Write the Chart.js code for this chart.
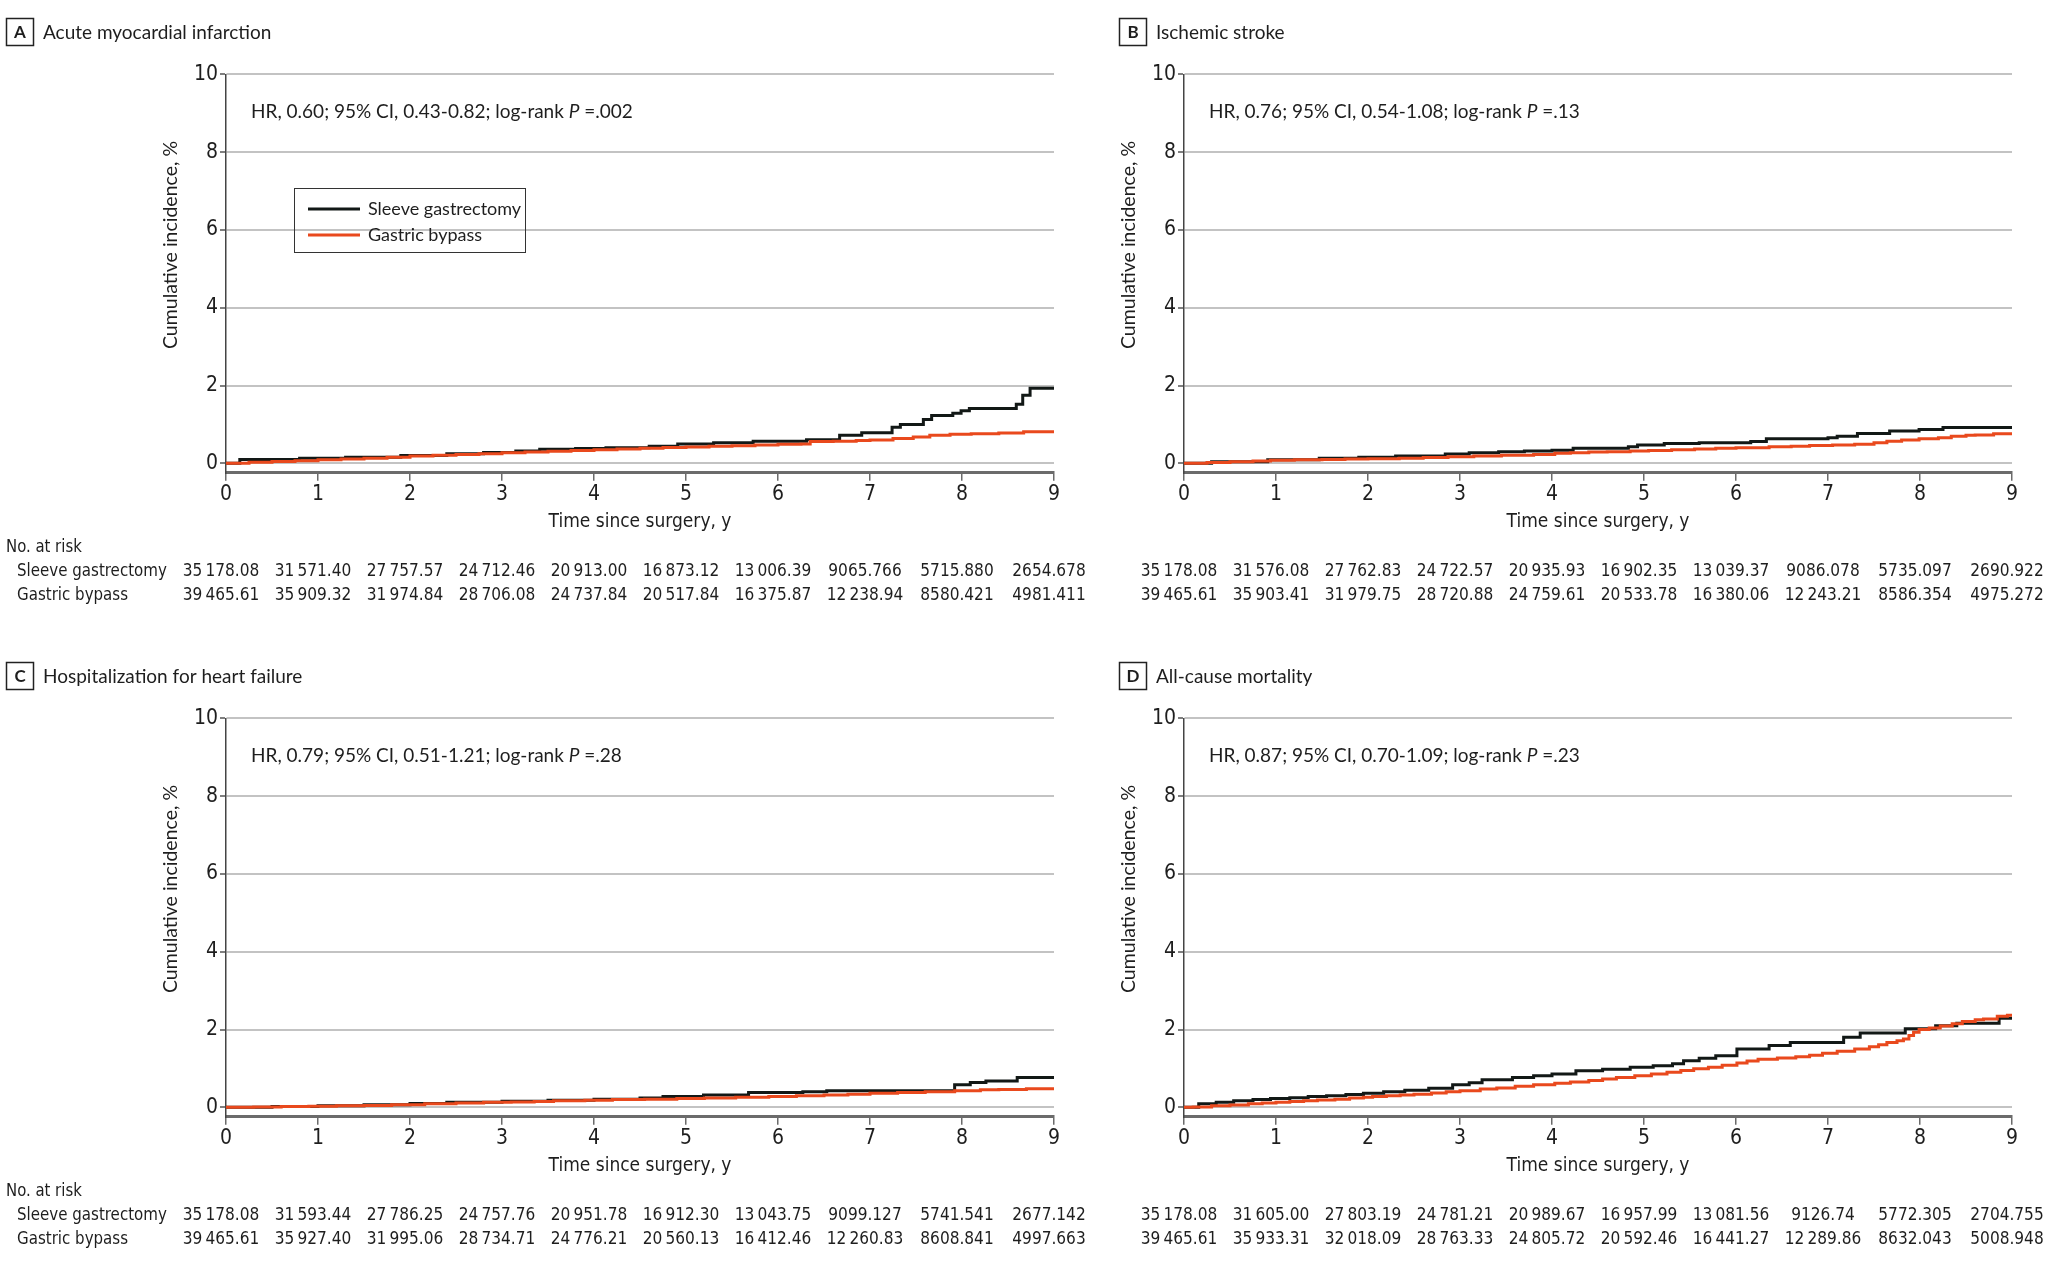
<!DOCTYPE html>
<html>
<head>
<meta charset="utf-8">
<script src="https://cdn.jsdelivr.net/npm/chart.js@4.4.0/dist/chart.umd.min.js"></script>
<style>
html, body { margin: 0; padding: 0; background: #fff; width: 2048px; height: 1266px; overflow: hidden; }
canvas { position: absolute; }
</style>
</head>
<body>
<canvas id="panelA" width="1100" height="622" style="left:0px;top:0px;width:1100px;height:622px"></canvas>
<canvas id="panelB" width="1100" height="622" style="left:958px;top:0px;width:1100px;height:622px"></canvas>
<canvas id="panelC" width="1100" height="622" style="left:0px;top:644px;width:1100px;height:622px"></canvas>
<canvas id="panelD" width="1100" height="622" style="left:958px;top:644px;width:1100px;height:622px"></canvas>
<script>
// Cumulative incidence (%) step curves
const xTicks = [0, 1, 2, 3, 4, 5, 6, 7, 8, 9];
const yTicks = [0, 2, 4, 6, 8, 10];

const aSleeveT = [0, 0.15, 0.8, 1.3, 1.9, 2.4, 2.8, 3.15, 3.41, 3.8, 4.13, 4.6, 4.91, 5.3, 5.73, 6.31, 6.67, 6.91, 7.24, 7.33, 7.58, 7.67, 7.90, 7.99, 8.08, 8.59, 8.66, 8.74, 9.0];
const aSleeveY = [0, 0.10, 0.13, 0.16, 0.20, 0.25, 0.28, 0.32, 0.36, 0.38, 0.40, 0.44, 0.50, 0.53, 0.57, 0.61, 0.72, 0.79, 0.93, 1.00, 1.13, 1.23, 1.29, 1.35, 1.41, 1.52, 1.75, 1.93, 1.93];
const aBypassT = [0, 0.25, 0.5, 0.75, 1.0, 1.25, 1.5, 1.75, 2.0, 2.25, 2.5, 2.75, 3.0, 3.25, 3.5, 3.75, 4.0, 4.25, 4.5, 4.75, 5.0, 5.25, 5.5, 5.75, 6.0, 6.25, 6.35, 6.6, 6.85, 7.0, 7.25, 7.47, 7.65, 7.87, 8.1, 8.4, 8.67, 9.0];
const aBypassY = [0, 0.03, 0.05, 0.07, 0.09, 0.11, 0.13, 0.16, 0.19, 0.21, 0.23, 0.25, 0.27, 0.29, 0.31, 0.33, 0.35, 0.37, 0.39, 0.41, 0.42, 0.44, 0.45, 0.47, 0.49, 0.50, 0.56, 0.57, 0.59, 0.60, 0.64, 0.68, 0.72, 0.75, 0.76, 0.78, 0.81, 0.82];

const bSleeveT = [0, 0.3, 0.91, 1.47, 1.9, 2.3, 2.84, 3.1, 3.42, 3.7, 4.0, 4.23, 4.83, 4.93, 5.22, 5.6, 6.16, 6.33, 7.0, 7.1, 7.32, 7.67, 7.99, 8.25, 9.0];
const bSleeveY = [0, 0.04, 0.09, 0.13, 0.16, 0.19, 0.24, 0.27, 0.30, 0.32, 0.34, 0.39, 0.43, 0.47, 0.51, 0.53, 0.56, 0.63, 0.66, 0.70, 0.77, 0.83, 0.87, 0.92, 0.92];
const bBypassT = [0, 0.25, 0.5, 0.75, 0.94, 1.2, 1.5, 1.75, 2.0, 2.34, 2.6, 2.87, 3.15, 3.45, 3.8, 4.03, 4.2, 4.4, 4.6, 4.85, 5.05, 5.3, 5.55, 5.78, 6.0, 6.36, 6.6, 6.8, 7.05, 7.29, 7.5, 7.64, 7.8, 7.99, 8.2, 8.34, 8.5, 8.6, 8.8, 9.0];
const bBypassY = [0, 0.02, 0.04, 0.06, 0.08, 0.09, 0.10, 0.11, 0.12, 0.13, 0.15, 0.17, 0.19, 0.21, 0.23, 0.26, 0.27, 0.29, 0.30, 0.32, 0.33, 0.35, 0.37, 0.39, 0.40, 0.43, 0.44, 0.46, 0.47, 0.49, 0.53, 0.57, 0.60, 0.63, 0.66, 0.70, 0.72, 0.73, 0.76, 0.79];

const cSleeveT = [0, 0.5, 1.0, 1.5, 2.0, 2.4, 3.0, 3.5, 4.0, 4.5, 4.75, 5.19, 5.68, 6.27, 6.53, 7.92, 8.09, 8.26, 8.6, 9.0];
const cSleeveY = [0, 0.02, 0.04, 0.07, 0.10, 0.13, 0.16, 0.18, 0.21, 0.24, 0.28, 0.32, 0.38, 0.40, 0.43, 0.58, 0.64, 0.68, 0.77, 0.77];
const cBypassT = [0, 0.3, 0.6, 0.9, 1.2, 1.5, 1.8, 2.16, 2.5, 2.8, 3.1, 3.35, 3.56, 3.9, 4.2, 4.55, 4.9, 5.2, 5.54, 5.9, 6.2, 6.5, 6.76, 7.0, 7.3, 7.6, 7.92, 8.2, 8.4, 8.7, 9.0];
const cBypassY = [0, 0.01, 0.02, 0.03, 0.04, 0.05, 0.07, 0.09, 0.11, 0.13, 0.14, 0.15, 0.17, 0.18, 0.20, 0.21, 0.23, 0.24, 0.26, 0.28, 0.30, 0.32, 0.34, 0.36, 0.38, 0.40, 0.43, 0.45, 0.46, 0.48, 0.49];

const dSleeveT = [0, 0.16, 0.35, 0.54, 0.75, 0.94, 1.15, 1.35, 1.55, 1.76, 1.95, 2.17, 2.4, 2.66, 2.92, 3.1, 3.24, 3.57, 3.8, 4.0, 4.26, 4.55, 4.85, 5.1, 5.31, 5.43, 5.6, 5.78, 6.01, 6.36, 6.59, 7.17, 7.35, 7.84, 8.17, 8.4, 8.86, 9.0];
const dSleeveY = [0, 0.09, 0.13, 0.17, 0.20, 0.23, 0.25, 0.28, 0.30, 0.33, 0.36, 0.40, 0.44, 0.49, 0.58, 0.63, 0.71, 0.77, 0.81, 0.86, 0.94, 0.98, 1.03, 1.07, 1.12, 1.20, 1.26, 1.33, 1.50, 1.59, 1.67, 1.80, 1.91, 2.02, 2.10, 2.16, 2.29, 2.29];
const dBypassT = [0, 0.1, 0.3, 0.5, 0.7, 0.85, 1.0, 1.15, 1.3, 1.45, 1.64, 1.8, 1.95, 2.05, 2.2, 2.35, 2.5, 2.69, 2.85, 3.0, 3.22, 3.4, 3.6, 3.8, 4.03, 4.2, 4.4, 4.55, 4.7, 4.9, 5.08, 5.25, 5.4, 5.54, 5.7, 5.85, 6.01, 6.12, 6.24, 6.45, 6.65, 6.8, 6.94, 7.1, 7.29, 7.45, 7.55, 7.64, 7.75, 7.82, 7.88, 7.93, 7.99, 8.1, 8.22, 8.35, 8.46, 8.6, 8.69, 8.84, 8.95, 9.0];
const dBypassY = [0, 0.01, 0.04, 0.06, 0.09, 0.11, 0.13, 0.15, 0.17, 0.19, 0.21, 0.24, 0.26, 0.28, 0.30, 0.32, 0.34, 0.37, 0.40, 0.43, 0.47, 0.50, 0.54, 0.58, 0.62, 0.65, 0.69, 0.73, 0.77, 0.81, 0.86, 0.90, 0.95, 0.99, 1.03, 1.08, 1.14, 1.19, 1.24, 1.27, 1.30, 1.34, 1.39, 1.44, 1.50, 1.56, 1.61, 1.67, 1.71, 1.76, 1.85, 1.93, 2.00, 2.04, 2.09, 2.15, 2.21, 2.25, 2.27, 2.34, 2.37, 2.39];

// No. at risk
const aSleeveRisk = ['35\u2009178.08', '31\u2009571.40', '27\u2009757.57', '24\u2009712.46', '20\u2009913.00', '16\u2009873.12', '13\u2009006.39', '9065.766', '5715.880', '2654.678'];
const aBypassRisk = ['39\u2009465.61', '35\u2009909.32', '31\u2009974.84', '28\u2009706.08', '24\u2009737.84', '20\u2009517.84', '16\u2009375.87', '12\u2009238.94', '8580.421', '4981.411'];
const bSleeveRisk = ['35\u2009178.08', '31\u2009576.08', '27\u2009762.83', '24\u2009722.57', '20\u2009935.93', '16\u2009902.35', '13\u2009039.37', '9086.078', '5735.097', '2690.922'];
const bBypassRisk = ['39\u2009465.61', '35\u2009903.41', '31\u2009979.75', '28\u2009720.88', '24\u2009759.61', '20\u2009533.78', '16\u2009380.06', '12\u2009243.21', '8586.354', '4975.272'];
const cSleeveRisk = ['35\u2009178.08', '31\u2009593.44', '27\u2009786.25', '24\u2009757.76', '20\u2009951.78', '16\u2009912.30', '13\u2009043.75', '9099.127', '5741.541', '2677.142'];
const cBypassRisk = ['39\u2009465.61', '35\u2009927.40', '31\u2009995.06', '28\u2009734.71', '24\u2009776.21', '20\u2009560.13', '16\u2009412.46', '12\u2009260.83', '8608.841', '4997.663'];
const dSleeveRisk = ['35\u2009178.08', '31\u2009605.00', '27\u2009803.19', '24\u2009781.21', '20\u2009989.67', '16\u2009957.99', '13\u2009081.56', '9126.74', '5772.305', '2704.755'];
const dBypassRisk = ['39\u2009465.61', '35\u2009933.31', '32\u2009018.09', '28\u2009763.33', '24\u2009805.72', '20\u2009592.46', '16\u2009441.27', '12\u2009289.86', '8632.043', '5008.948'];

// Fonts: pick the first installed one
function pickFont(list, fallback) {
    const c = document.createElement('canvas').getContext('2d');
    const probe = 'Sleeve gastrectomy 0123456789 Wmi';
    for (const f of list) {
        c.font = '40px monospace'; const w1 = c.measureText(probe).width;
        c.font = '40px serif'; const w2 = c.measureText(probe).width;
        c.font = `40px "${f}", monospace`; const w3 = c.measureText(probe).width;
        c.font = `40px "${f}", serif`; const w4 = c.measureText(probe).width;
        if (w3 === w4 && (w3 !== w1 || w4 !== w2)) return f;
    }
    return fallback;
}
const COND = pickFont(['DejaVu Sans Condensed', 'Liberation Sans Narrow'], 'Liberation Sans');
const REG = pickFont(['Lato'], 'Liberation Sans');

const BLACK = '#121816';
const ORANGE = '#e9491d';
const TEXT = '#1e1e1e';

// Plot geometry (canvas px)
const CW = 1100, CH = 622;
const X0 = 226, X9 = 1054, Y10 = 74.4, YAXIS = 472.7;
const YW = 70, XH = 61;

function toXY(ts, ys) {
    return ts.map((t, i) => ({ x: t, y: ys[i] }));
}

// text squeezed horizontally
function squeezeText(ctx, txt, x, y, sx, align) {
    ctx.save();
    ctx.translate(x, y);
    ctx.scale(sx, 1);
    ctx.textAlign = align;
    ctx.fillText(txt, 0, 0);
    ctx.restore();
}

// Draws letter box, title, HR text, legend and the at-risk table
const decor = {
    id: 'panelDecor',
    afterDraw(chart, args, o) {
        const ctx = chart.ctx;
        ctx.save();
        ctx.fillStyle = TEXT;
        ctx.textBaseline = 'middle';

        ctx.strokeStyle = '#222';
        ctx.lineWidth = 1.5;
        ctx.strokeRect(o.boxX + 0.5, 18.5, 27, 27);
        ctx.font = `bold 17px "${REG}"`;
        ctx.textAlign = 'center';
        ctx.fillText(o.letter, o.boxX + 14, 32.5);
        ctx.textAlign = 'left';
        ctx.font = `19px "${REG}"`;
        ctx.fillText(o.title, o.boxX + 37, 33);

        let x = 251;
        ctx.font = `19px "${REG}"`;
        ctx.fillText(o.hr[0], x, 112);
        x += ctx.measureText(o.hr[0]).width;
        ctx.font = `italic 19px "${REG}"`;
        ctx.fillText('P', x, 112);
        x += ctx.measureText('P').width;
        ctx.font = `19px "${REG}"`;
        ctx.fillText(o.hr[1], x, 112);

        // y axis title
        ctx.save();
        ctx.translate(171, 245);
        ctx.rotate(-Math.PI / 2);
        ctx.textAlign = 'center';
        ctx.font = `19.5px "${REG}"`;
        ctx.fillText('Cumulative incidence, %', 0, 0);
        ctx.restore();

        if (o.legend) {
            ctx.strokeStyle = '#333';
            ctx.lineWidth = 1;
            ctx.strokeRect(294.5, 188.5, 231, 64);
            ctx.lineWidth = 3;
            [[BLACK, 'Sleeve gastrectomy', 209], [ORANGE, 'Gastric bypass', 235]].forEach(([col, txt, y]) => {
                ctx.strokeStyle = col;
                ctx.beginPath(); ctx.moveTo(308, y); ctx.lineTo(360, y); ctx.stroke();
                ctx.fillStyle = TEXT;
                ctx.font = `18px "${REG}"`;
                ctx.fillText(txt, 368, y);
            });
        }

        ctx.font = `18px "${COND}"`;
        if (o.rowLabels) {
            squeezeText(ctx, 'No. at risk', 6, 547, 0.92, 'left');
            squeezeText(ctx, 'Sleeve gastrectomy', 17, 571, 0.93, 'left');
            squeezeText(ctx, 'Gastric bypass', 17, 595.5, 0.93, 'left');
        }
        const xs = chart.scales.x;
        o.sleeveRisk.forEach((s, i) => squeezeText(ctx, s, xs.getPixelForValue(xTicks[i]) - 5, 571, 0.95, 'center'));
        o.bypassRisk.forEach((s, i) => squeezeText(ctx, s, xs.getPixelForValue(xTicks[i]) - 5, 595.5, 0.95, 'center'));
        ctx.restore();
    }
};

function makePanel(canvasId, p) {
    return new Chart(document.getElementById(canvasId), {
        type: 'line',
        data: {
            datasets: [
                {
                    label: 'Gastric bypass',
                    data: toXY(p.bypassT, p.bypassY),
                    borderColor: ORANGE,
                    borderWidth: 3,
                    stepped: 'before',
                    pointRadius: 0,
                    order: 0
                },
                {
                    label: 'Sleeve gastrectomy',
                    data: toXY(p.sleeveT, p.sleeveY),
                    borderColor: BLACK,
                    borderWidth: 3,
                    stepped: 'before',
                    pointRadius: 0,
                    order: 1
                }
            ]
        },
        options: {
            responsive: false,
            animation: false,
            devicePixelRatio: 1,
            layout: {
                padding: { left: X0 - YW, top: Y10, right: CW - X9, bottom: CH - YAXIS - XH }
            },
            plugins: {
                legend: { display: false },
                tooltip: { enabled: false },
                panelDecor: p
            },
            scales: {
                x: {
                    type: 'linear',
                    min: 0,
                    max: 9,
                    afterFit: s => { s.height = XH; },
                    afterBuildTicks: s => { s.ticks = xTicks.map(v => ({ value: v })); },
                    grid: { drawOnChartArea: false, drawTicks: true, tickLength: 8, color: '#6b6b6b', lineWidth: 1.5 },
                    border: { display: true, color: '#6b6b6b', width: 3 },
                    ticks: { color: TEXT, font: { family: COND, size: 21 }, padding: 1, maxRotation: 0 },
                    title: {
                        display: true,
                        text: 'Time since surgery, y',
                        color: TEXT,
                        font: { family: COND, size: 19 },
                        padding: { top: 0, bottom: 0 }
                    }
                },
                y: {
                    type: 'linear',
                    min: -0.24,
                    max: 10,
                    afterFit: s => { s.width = YW; },
                    afterBuildTicks: s => { s.ticks = yTicks.map(v => ({ value: v })); },
                    grid: { color: '#c3c3c3', lineWidth: 2, tickLength: 6, tickColor: '#555', tickWidth: 1.5 },
                    border: { display: true, color: '#444', width: 1.5 },
                    ticks: { color: TEXT, font: { family: COND, size: 21 }, padding: 2 },
                    title: { display: false }
                }
            }
        },
        plugins: [decor]
    });
}

makePanel('panelA', {
    letter: 'A', title: 'Acute myocardial infarction', boxX: 6,
    hr: ['HR, 0.60; 95% CI, 0.43-0.82; log-rank ', ' =.002'],
    legend: true, rowLabels: true,
    sleeveT: aSleeveT, sleeveY: aSleeveY, bypassT: aBypassT, bypassY: aBypassY,
    sleeveRisk: aSleeveRisk, bypassRisk: aBypassRisk
});
makePanel('panelB', {
    letter: 'B', title: 'Ischemic stroke', boxX: 161,
    hr: ['HR, 0.76; 95% CI, 0.54-1.08; log-rank ', ' =.13'],
    legend: false, rowLabels: false,
    sleeveT: bSleeveT, sleeveY: bSleeveY, bypassT: bBypassT, bypassY: bBypassY,
    sleeveRisk: bSleeveRisk, bypassRisk: bBypassRisk
});
makePanel('panelC', {
    letter: 'C', title: 'Hospitalization for heart failure', boxX: 6,
    hr: ['HR, 0.79; 95% CI, 0.51-1.21; log-rank ', ' =.28'],
    legend: false, rowLabels: true,
    sleeveT: cSleeveT, sleeveY: cSleeveY, bypassT: cBypassT, bypassY: cBypassY,
    sleeveRisk: cSleeveRisk, bypassRisk: cBypassRisk
});
makePanel('panelD', {
    letter: 'D', title: 'All-cause mortality', boxX: 161,
    hr: ['HR, 0.87; 95% CI, 0.70-1.09; log-rank ', ' =.23'],
    legend: false, rowLabels: false,
    sleeveT: dSleeveT, sleeveY: dSleeveY, bypassT: dBypassT, bypassY: dBypassY,
    sleeveRisk: dSleeveRisk, bypassRisk: dBypassRisk
});
</script>
</body>
</html>
